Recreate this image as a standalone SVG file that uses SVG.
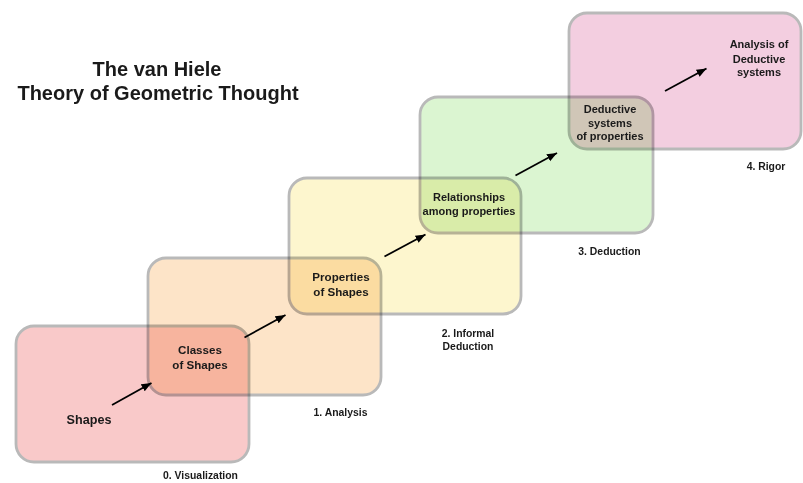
<svg xmlns="http://www.w3.org/2000/svg" width="803" height="483" viewBox="0 0 803 483">
  <defs>
    <style>
      .box { stroke: #b9b9b9; stroke-width: 2.8; mix-blend-mode: multiply; }
      text { font-family: "Liberation Sans", Arial, Helvetica, sans-serif; font-weight: bold; fill: #1a1a1a; text-anchor: middle; }
      .title { font-size: 20px; }
      .node { font-size: 11.6px; }
      .small { font-size: 11px; }
      .lbl { font-size: 10.4px; }
      .conn { stroke: #000; stroke-width: 1.8; fill: none; marker-end: url(#arrow); }
    </style>
    <marker id="arrow" markerUnits="userSpaceOnUse" markerWidth="11" markerHeight="9" refX="10" refY="4" orient="auto">
      <path d="M0,0 L10,4 L0,8 z" fill="#000"/>
    </marker>
  </defs>
  <rect x="0" y="0" width="803" height="483" fill="#ffffff"/>

  <g id="title">
    <text class="title" x="157" y="76">The van Hiele</text>
    <text class="title" x="158" y="99.5">Theory of Geometric Thought</text>
  </g>

  <g id="level0">
    <rect class="box" x="16" y="326" width="233" height="136" rx="18" fill="#f9c9c9"/>
    <text style="font-size:12.6px" x="89" y="423.5">Shapes</text>
    <text class="lbl" x="200.5" y="479">0. Visualization</text>
  </g>

  <g id="level1">
    <rect class="box" x="148" y="258" width="233" height="137" rx="18" fill="#fde4c8"/>
    <text class="node" x="200" y="354">Classes</text>
    <text class="node" x="200" y="368.5">of Shapes</text>
    <text class="lbl" x="340.5" y="415.5">1. Analysis</text>
  </g>

  <g id="level2">
    <rect class="box" x="289" y="178" width="232" height="136" rx="18" fill="#fdf6ce"/>
    <text class="node" x="341" y="281">Properties</text>
    <text class="node" x="341" y="295.5">of Shapes</text>
    <text class="lbl" x="468" y="336.5">2. Informal</text>
    <text class="lbl" x="468" y="349.5">Deduction</text>
  </g>

  <g id="level3">
    <rect class="box" x="420" y="97" width="233" height="136" rx="18" fill="#dbf5d1"/>
    <text class="small" x="469" y="200.5">Relationships</text>
    <text class="small" x="469" y="214.5">among properties</text>
    <text class="lbl" x="609.5" y="254.5">3. Deduction</text>
  </g>

  <g id="level4">
    <rect class="box" x="569" y="13" width="232" height="136" rx="18" fill="#f3cee0"/>
    <text class="small" x="610" y="113">Deductive</text>
    <text class="small" x="610" y="126.5">systems</text>
    <text class="small" x="610" y="140">of properties</text>
    <text class="small" x="759" y="48">Analysis of</text>
    <text class="small" x="759" y="62.5">Deductive</text>
    <text class="small" x="759" y="76">systems</text>
    <text class="lbl" x="766" y="169.5">4. Rigor</text>
  </g>

  <g id="connectors">
    <line class="conn" x1="112" y1="405" x2="151.5" y2="383"/>
    <line class="conn" x1="244.5" y1="337.5" x2="285.5" y2="315"/>
    <line class="conn" x1="384.5" y1="256.5" x2="425.5" y2="234.5"/>
    <line class="conn" x1="515.5" y1="175.5" x2="557" y2="153"/>
    <line class="conn" x1="665" y1="91" x2="706.5" y2="68.5"/>
  </g>
</svg>
